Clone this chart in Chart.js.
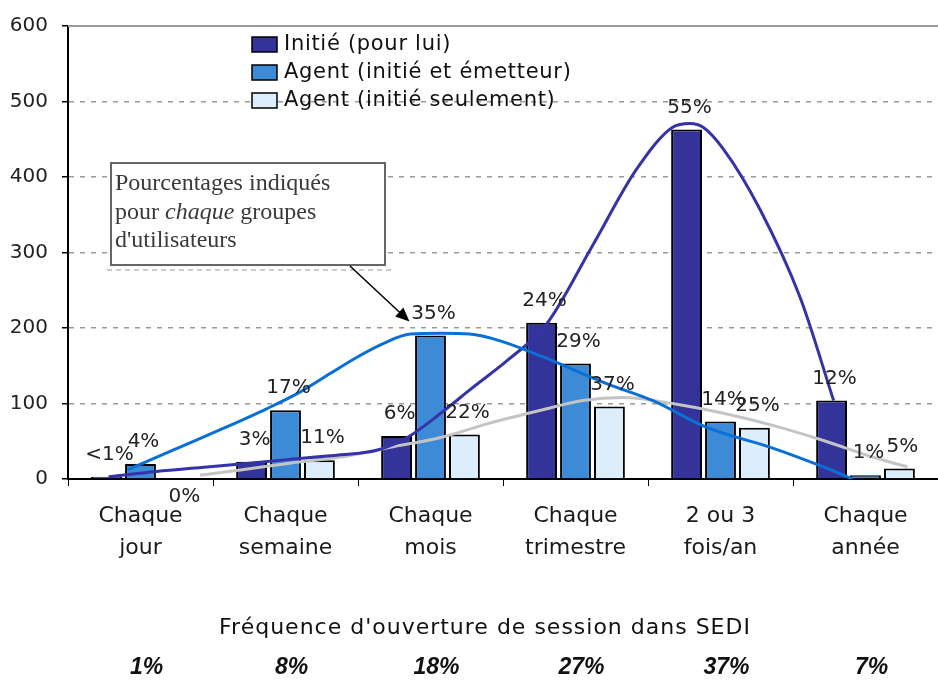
<!DOCTYPE html>
<html lang="fr">
<head>
<meta charset="utf-8">
<title>Fréquence d'ouverture de session dans SEDI</title>
<script src="https://cdn.jsdelivr.net/npm/chart.js@4.4.1/dist/chart.umd.min.js"></script>
<style>
  html, body { margin: 0; padding: 0; background: #fff; }
  #wrap { width: 938px; height: 681px; position: relative; }
</style>
</head>
<body>
<div id="wrap"><canvas id="sediChart"></canvas></div>
<script>
// categories (two-line tick labels)
const categories = [
  ['Chaque', 'jour'], ['Chaque', 'semaine'], ['Chaque', 'mois'],
  ['Chaque', 'trimestre'], ['2 ou 3', 'fois/an'], ['Chaque', 'année']
];
const seriesNames = ['Initié (pour lui)', 'Agent (initié et émetteur)', 'Agent (initié seulement)'];

// bar values
const initie = [3, 23, 57, 207, 463, 104];
const emetteur = [20, 91, 190, 153, 76, 5];
const seulement = [0, 25, 59, 96, 68, 14];

// percentage labels above the bars
const pctInitie = ['<1%', '3%', '6%', '24%', '55%', '12%'];
const pctEmetteur = ['4%', '17%', '35%', '29%', '14%', '1%'];
const pctSeulement = ['0%', '11%', '22%', '37%', '25%', '5%'];

// share of all users per frequency (bottom row)
const partTotale = ['1%', '8%', '18%', '27%', '37%', '7%'];

const yTicks = [0, 100, 200, 300, 400, 500, 600];

// hand-drawn trend curves (x in category units)
const curveInitieX = [-0.22, 0.11, 0.46, 1.03, 1.38, 1.63, 1.84, 2.07, 2.29, 2.53, 2.80, 3.12, 3.42, 3.67, 3.79, 3.88, 4.02, 4.27, 4.55, 4.78];
const curveInitieY = [3, 10, 16, 26, 32, 38, 55, 87, 121, 157, 205, 310, 410, 466, 471, 466, 437, 358, 240, 104];
const curveEmetteurX = [-0.09, 0.22, 0.57, 0.87, 1.08, 1.31, 1.49, 1.67, 1.86, 2.07, 2.27, 2.48, 2.76, 3.22, 3.53, 3.91, 4.36, 4.71, 4.91];
const curveEmetteurY = [12, 38, 67, 93, 113, 140, 161, 179, 192, 193, 192, 183, 163, 126, 104, 68, 41, 16, 0];
const curveSeulementX = [0.41, 0.69, 1.03, 1.38, 1.72, 2.07, 2.41, 2.76, 3.05, 3.33, 3.67, 4.02, 4.36, 4.71, 5.05, 5.29];
const curveSeulementY = [5, 12, 21, 29, 42, 55, 74, 91, 104, 108, 100, 87, 71, 51, 29, 16];

const COLORS = ['#333399', '#3d8bd6', '#dcedfc'];
const CURVE_COLORS = ['#3434a8', '#0a6fd6', '#c4c4c4'];
const BAR_STEP = 0.234;
const SANS = '"DejaVu Sans", sans-serif';

function zipPoints(xs, ys) {
  return xs.map((x, i) => ({ x: x, y: ys[i] }));
}

const annotations = {
  id: 'annotations',
  afterDatasetsDraw(chart) {
    const { ctx, chartArea, scales } = chart;
    const labels = [pctInitie, pctEmetteur, pctSeulement];
    const values = [initie, emetteur, seulement];

    ctx.save();
    // solid top border of the plot
    ctx.strokeStyle = '#9a9a9a';
    ctx.lineWidth = 2;
    ctx.beginPath();
    ctx.moveTo(chartArea.left, chartArea.top);
    ctx.lineTo(chartArea.right, chartArea.top);
    ctx.stroke();

    // percentages on the bars
    ctx.font = '20px ' + SANS;
    ctx.fillStyle = '#222';
    ctx.textAlign = 'center';
    ctx.textBaseline = 'middle';
    labels.forEach((arr, s) => {
      const meta = chart.getDatasetMeta(s);
      arr.forEach((txt, j) => {
        const el = meta.data[j];
        if (values[s][j] === 0) {
          ctx.fillText(txt, el.x + 10, el.y + 18);
        } else {
          ctx.fillText(txt, el.x + 3, el.y - 22);
        }
      });
    });

    // legend
    ctx.font = '21px ' + SANS;
    ctx.textAlign = 'left';
    ctx.letterSpacing = '0.7px';
    seriesNames.forEach((name, k) => {
      const top = 37 + k * 28;
      ctx.fillStyle = COLORS[k];
      ctx.fillRect(252, top, 25, 15);
      ctx.strokeStyle = '#000';
      ctx.lineWidth = 1.5;
      ctx.strokeRect(252, top, 25, 15);
      ctx.fillStyle = '#111';
      ctx.fillText(name, 284, top + 8);
    });
    ctx.letterSpacing = '0px';

    // callout box
    ctx.setLineDash([5, 4]);
    ctx.strokeStyle = '#9a9a9a';
    ctx.lineWidth = 1;
    ctx.beginPath();
    ctx.moveTo(107, 270);
    ctx.lineTo(391, 270);
    ctx.stroke();
    ctx.setLineDash([]);
    ctx.fillStyle = '#fff';
    ctx.fillRect(111, 163, 274, 102);
    ctx.strokeStyle = '#666';
    ctx.lineWidth = 2;
    ctx.strokeRect(111, 163, 274, 102);
    ctx.fillStyle = '#3a3a3a';
    const serif = '24px "Liberation Serif", serif';
    ctx.font = serif;
    ctx.fillText('Pourcentages indiqués', 115, 184);
    let x = 115;
    ctx.fillText('pour ', x, 213);
    x += ctx.measureText('pour ').width;
    ctx.font = 'italic ' + serif;
    ctx.fillText('chaque', x, 213);
    x += ctx.measureText('chaque').width;
    ctx.font = serif;
    ctx.fillText(' groupes', x, 213);
    ctx.fillText("d'utilisateurs", 115, 241);

    // arrow to the 35% label
    const target = chart.getDatasetMeta(1).data[2];
    const tx = target.x - 21, ty = target.y - 14;
    const sx = 350, sy = 266;
    const ang = Math.atan2(ty - sy, tx - sx);
    ctx.strokeStyle = '#000';
    ctx.lineWidth = 1.5;
    ctx.beginPath();
    ctx.moveTo(sx, sy);
    ctx.lineTo(tx - 10 * Math.cos(ang), ty - 10 * Math.sin(ang));
    ctx.stroke();
    ctx.fillStyle = '#000';
    ctx.beginPath();
    ctx.moveTo(tx, ty);
    ctx.lineTo(tx - 14 * Math.cos(ang) + 6 * Math.sin(ang), ty - 14 * Math.sin(ang) - 6 * Math.cos(ang));
    ctx.lineTo(tx - 14 * Math.cos(ang) - 6 * Math.sin(ang), ty - 14 * Math.sin(ang) + 6 * Math.cos(ang));
    ctx.closePath();
    ctx.fill();

    // axis title and bottom row
    ctx.textAlign = 'center';
    ctx.fillStyle = '#111';
    ctx.font = '22px ' + SANS;
    ctx.letterSpacing = '1px';
    ctx.fillText("Fréquence d'ouverture de session dans SEDI", 485, 628);
    ctx.letterSpacing = '0px';
    ctx.font = 'italic bold 23px "Liberation Sans Narrow", "Liberation Sans", sans-serif';
    partTotale.forEach((txt, i) => {
      ctx.fillText(txt, scales.x.getPixelForValue(i) + 6, 668);
    });
    ctx.restore();
  }
};

const SediChart = {
  initialize: function() {
    const canvas = document.getElementById('sediChart');
    if (!canvas) return;
    Chart.defaults.font.family = SANS;
    Chart.defaults.color = '#222';

    // bars sit on a linear copy of the category axis, shifted by slot
    const bars = [initie, emetteur, seulement].map((data, k) => ({
      type: 'bar',
      label: seriesNames[k],
      data: data.map((v, i) => ({ x: i + (k - 1) * BAR_STEP, y: v })),
      xAxisID: 'xb',
      grouped: false,
      backgroundColor: COLORS[k],
      borderColor: '#000',
      borderWidth: 2,
      categoryPercentage: 1,
      barPercentage: 0.91,
      order: 10
    }));

    const curve = (xs, ys, k, order) => ({
      type: 'line',
      data: zipPoints(xs, ys),
      xAxisID: 'xc',
      borderColor: CURVE_COLORS[k],
      borderWidth: 3,
      cubicInterpolationMode: 'monotone',
      pointRadius: 0,
      fill: false,
      order: order
    });

    const hiddenLinear = () => ({
      type: 'linear', display: false, offset: false, grid: { offset: false }, min: -0.5, max: 5.5
    });

    this.chart = new Chart(canvas.getContext('2d'), {
      type: 'bar',
      data: {
        labels: categories,
        datasets: bars.concat([
          curve(curveSeulementX, curveSeulementY, 2, 3),
          curve(curveInitieX, curveInitieY, 0, 2),
          curve(curveEmetteurX, curveEmetteurY, 1, 1)
        ])
      },
      options: {
        responsive: true,
        maintainAspectRatio: false,
        animation: false,
        layout: { padding: { top: 23, right: 0, left: 0, bottom: 0 } },
        plugins: { legend: { display: false }, tooltip: { enabled: false } },
        scales: {
          x: {
            type: 'category',
            offset: true,
            grid: { display: true, drawOnChartArea: false, drawTicks: true, tickLength: 7, tickColor: '#000', offset: true },
            border: { display: true, color: '#000', width: 2 },
            ticks: { font: { size: 22, lineHeight: 1.45 }, color: '#1a1a1a', padding: 14, maxRotation: 0, autoSkip: false },
            afterFit: scale => { scale.height = 202; }
          },
          xb: hiddenLinear(),
          xc: hiddenLinear(),
          y: {
            min: yTicks[0],
            max: yTicks[yTicks.length - 1],
            ticks: { stepSize: yTicks[1] - yTicks[0], font: { size: 20 }, color: '#222', padding: 14 },
            grid: { color: '#9a9a9a', lineWidth: 1.5, tickLength: 6, tickColor: '#000', tickBorderDash: [] },
            border: { display: true, color: '#000', width: 2, dash: [5, 6] },
            afterFit: scale => { scale.width = 68; }
          }
        }
      },
      plugins: [annotations]
    });
  }
};

SediChart.initialize();
</script>
</body>
</html>
